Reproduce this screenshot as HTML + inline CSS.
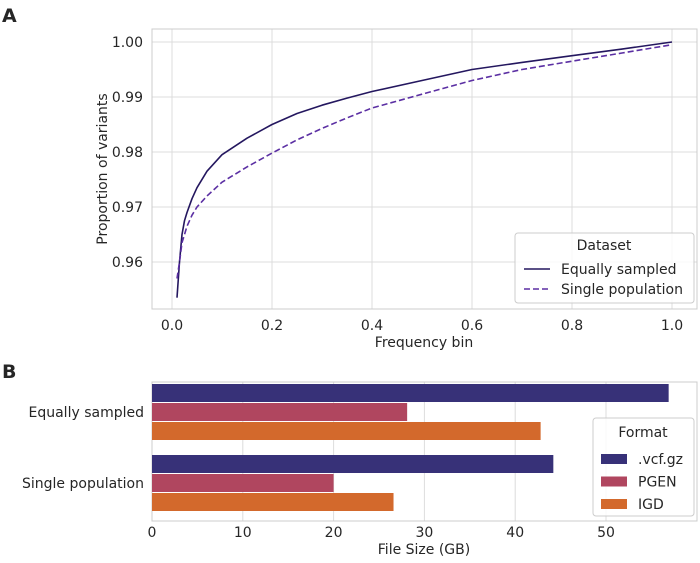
<!DOCTYPE html>
<html><head><meta charset="utf-8"><style>
body{margin:0;background:#fff;width:700px;height:558px;overflow:hidden}
svg{font-family:"DejaVu Sans","Liberation Sans",sans-serif;fill:#262626}
</style></head><body>
<svg id="c" width="700" height="558" xmlns="http://www.w3.org/2000/svg"></svg>
<script>
const freqBins=[0.01,0.015,0.02,0.025,0.03,0.04,0.05,0.07,0.1,0.15,0.2,0.25,0.3,0.35,0.4,0.5,0.6,0.7,0.8,0.9,1.0];
const equalSampled=[0.9535,0.960,0.965,0.9675,0.969,0.9715,0.9735,0.9765,0.9795,0.9825,0.985,0.987,0.9885,0.9898,0.991,0.993,0.995,0.9963,0.9975,0.9987,1.0];
const singlePop=[0.957,0.960,0.9635,0.965,0.9665,0.9685,0.970,0.972,0.9745,0.9773,0.9798,0.9822,0.9843,0.9862,0.988,0.9905,0.993,0.995,0.9965,0.998,0.9995];
const xTicksA=[0,0.2,0.4,0.6,0.8,1.0];
const yTicksA=[0.96,0.97,0.98,0.99,1.00];
const datasets=["Equally sampled","Single population"];
const formats=[".vcf.gz","PGEN","IGD"];
const vcfSizes=[56.9,44.2];
const pgenSizes=[28.1,20.0];
const igdSizes=[42.8,26.6];
const xTicksB=[0,10,20,30,40,50];

const NS="http://www.w3.org/2000/svg";
const svg=document.getElementById('c');
function el(t,a,p){const e=document.createElementNS(NS,t);for(const k in a)e.setAttribute(k,a[k]);(p||svg).appendChild(e);return e;}
function tx(s,a,p){const e=el('text',a,p);e.textContent=s;return e;}

// Panel A
const ax=v=>172+v*500, ay=v=>42+(1.0-v)*5500;
let g=el('g',{});


let t=tx('A',{x:2,y:22,'font-size':19,'font-weight':'bold'});

xTicksA.forEach(v=>{const l=el('line',{x1:ax(v),x2:ax(v),y1:29,y2:309,stroke:'#dcdcdc'},g);
const k=tx(v.toFixed(1),{x:ax(v),y:330,'font-size':14,'text-anchor':'middle'},g);});
yTicksA.forEach(v=>{const l=el('line',{x1:152,x2:697,y1:ay(v),y2:ay(v),stroke:'#dcdcdc'},g);
const k=tx(v.toFixed(2),{x:143,y:ay(v)+5,'font-size':14,'text-anchor':'end'},g);});
let fr=el('rect',{x:152,y:29,width:545,height:280,fill:'none',stroke:'#cccccc'},g);

function path(vals){return vals.map((v,i)=>(i?'L':'M')+ax(freqBins[i]).toFixed(1)+','+ay(v).toFixed(1)).join('');}
let p1=el('path',{d:path(equalSampled),fill:'none',stroke:'#24175f','stroke-width':1.6,'stroke-linejoin':'round'},g);

let p2=el('path',{d:path(singlePop),fill:'none',stroke:'#5b2fa3','stroke-width':1.6,'stroke-dasharray':'6,3','stroke-linejoin':'round'},g);

t=tx('Frequency bin',{x:424,y:347,'font-size':14,'text-anchor':'middle'},g);
t=tx('Proportion of variants',{x:0,y:0,'font-size':14,'text-anchor':'middle',transform:'translate(107,169) rotate(-90)'},g);
let lg=el('g',{},g);
el('rect',{x:515,y:233,width:179,height:70,rx:3,fill:'#fff','fill-opacity':0.85,stroke:'#cccccc'},lg);
tx('Dataset',{x:604,y:250,'font-size':14,'text-anchor':'middle'},lg);
el('line',{x1:524,x2:550,y1:269,y2:269,stroke:'#24175f','stroke-width':1.6},lg);
tx('Equally sampled',{x:561,y:274,'font-size':14},lg);
el('line',{x1:524,x2:550,y1:289,y2:289,stroke:'#5b2fa3','stroke-width':1.6,'stroke-dasharray':'6,3'},lg);
tx('Single population',{x:561,y:294,'font-size':14},lg);

// Panel B
const bx=v=>152+v*9.08;
const catC=[412,483], bh=19;
g=el('g',{});


t=tx('B',{x:2,y:378,'font-size':19,'font-weight':'bold'});

xTicksB.forEach(v=>{const l=el('line',{x1:bx(v),x2:bx(v),y1:382,y2:521,stroke:'#dcdcdc'},g);
const k=tx(String(v),{x:bx(v),y:537,'font-size':14,'text-anchor':'middle'},g);});
fr=el('rect',{x:152,y:382,width:545,height:139,fill:'none',stroke:'#cccccc'},g);

const colors=['#373178','#b0465f','#d3692c'];
const series=[vcfSizes,pgenSizes,igdSizes];
datasets.forEach((d,i)=>{
 const k=tx(d,{x:144,y:catC[i]+5,'font-size':14,'text-anchor':'end'},g);
 series.forEach((s,j)=>{const r=el('rect',{x:bx(0),y:catC[i]-1.5*bh+j*bh+0.5,width:bx(s[i])-bx(0),height:bh-1,fill:colors[j]},g);
 
 });
});
t=tx('File Size (GB)',{x:424,y:554,'font-size':14,'text-anchor':'middle'},g);
lg=el('g',{},g);
el('rect',{x:593,y:418,width:101,height:98,rx:3,fill:'#fff','fill-opacity':0.85,stroke:'#cccccc'},lg);
tx('Format',{x:643,y:437,'font-size':14,'text-anchor':'middle'},lg);
formats.forEach((f,j)=>{el('rect',{x:601,y:454+j*22.5,width:26,height:10,fill:colors[j]},lg);
 tx(f,{x:638,y:464+j*22.5,'font-size':14},lg);});
</script>
</body></html>
